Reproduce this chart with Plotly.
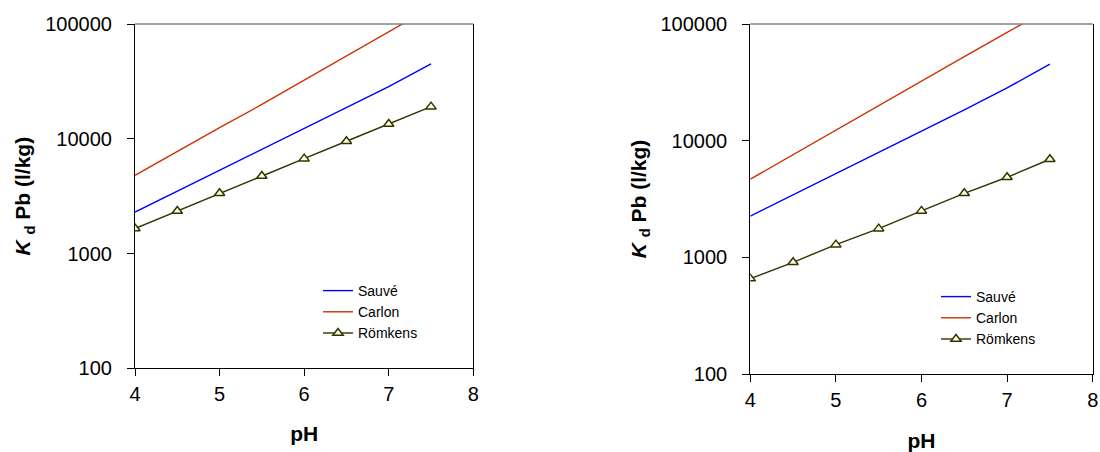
import plotly.graph_objects as go

ph = [4.0, 4.5, 5.0, 5.5, 6.0, 6.5, 7.0, 7.5]

# Left panel
sauve_left = [2300, 3500, 5300, 8000, 12200, 18500, 28500, 45000]
carlon_left = [4800, 7800, 12500, 19900, 32500, 52500, 85500, 139000]
romkens_left = [1650, 2350, 3350, 4740, 6710, 9510, 13450, 19050]

# Right panel
sauve_right = [2260, 3450, 5250, 7950, 12100, 18400, 28300, 45200]
carlon_right = [4670, 7600, 12300, 19800, 32500, 52500, 84700, 136000]
romkens_right = [657, 907, 1285, 1762, 2500, 3540, 4855, 6930]

series_names = ["Sauvé", "Carlon", "Römkens"]
x_ticks = [4, 5, 6, 7, 8]
y_ticks = [100, 1000, 10000, 100000]
y_ticklabels = ["100", "1000", "10000", "100000"]

BLUE = "#0000FF"
RED = "#CC3300"
OLIVE = "#333300"
FONT = "Liberation Sans, Arial, sans-serif"

fig = go.Figure()

panels = [
    ("x", "y", "legend", sauve_left, carlon_left, romkens_left),
    ("x2", "y2", "legend2", sauve_right, carlon_right, romkens_right),
]
for xa, ya, lg, s, c, r in panels:
    fig.add_trace(go.Scatter(x=ph, y=s, mode="lines", name=series_names[0],
                             line=dict(color=BLUE, width=1.4), xaxis=xa, yaxis=ya, legend=lg))
    fig.add_trace(go.Scatter(x=ph, y=c, mode="lines", name=series_names[1],
                             line=dict(color=RED, width=1.4), xaxis=xa, yaxis=ya, legend=lg))
    fig.add_trace(go.Scatter(x=ph, y=r, mode="lines+markers", name=series_names[2],
                             line=dict(color=OLIVE, width=1.4),
                             marker=dict(symbol="triangle-up", size=9, color="#FFFFE0",
                                         line=dict(color=OLIVE, width=1.5)),
                             xaxis=xa, yaxis=ya, legend=lg))

W, H = 1100, 452

def xaxis_cfg(x0, x1, anchor, title_standoff):
    return dict(domain=[x0 / W, x1 / W], anchor=anchor, range=[4, 8],
                tickvals=x_ticks, ticks="outside", ticklen=7, tickwidth=1.2,
                tickcolor="black", showline=True, linecolor="black", linewidth=1.2,
                mirror=False, showgrid=False, zeroline=False, automargin=False,
                tickfont=dict(family=FONT, size=20, color="black"),
                ticklabelstandoff=1,
                title=dict(text="pH", font=dict(family=FONT, size=21, color="black", weight="bold"),
                           standoff=title_standoff))

def yaxis_cfg(y_top, y_bot, anchor):
    return dict(domain=[1 - y_bot / H, 1 - y_top / H], anchor=anchor, type="log",
                range=[2, 5], tickvals=y_ticks, ticktext=y_ticklabels,
                ticks="outside", ticklen=7, tickwidth=1.2, tickcolor="black",
                showline=True, linecolor="black", linewidth=1.2, mirror=True,
                showgrid=False, zeroline=False, automargin=False,
                ticklabelstandoff=11,
                tickfont=dict(family=FONT, size=20, color="black"),
                title=dict(text="<i>K</i> <sub>d</sub> Pb (l/kg)",
                           font=dict(family=FONT, size=21, color="black", weight="bold"),
                           standoff=8))

fig.update_layout(
    width=W, height=H,
    margin=dict(l=0, r=0, t=0, b=0),
    paper_bgcolor="white", plot_bgcolor="white",
    showlegend=True,
    xaxis=xaxis_cfg(135, 473.3, "y", 21),
    yaxis=yaxis_cfg(24, 368.3, "x"),
    xaxis2=xaxis_cfg(750.3, 1092.7, "y2", 25),
    yaxis2=yaxis_cfg(24, 374, "x2"),
    legend=dict(x=318 / W, y=1 - 275 / H, xanchor="left", yanchor="top",
                bgcolor="rgba(0,0,0,0)", font=dict(family=FONT, size=14, color="black"),
                tracegroupgap=0, itemwidth=30),
    legend2=dict(x=936 / W, y=1 - 281 / H, xanchor="left", yanchor="top",
                 bgcolor="rgba(0,0,0,0)", font=dict(family=FONT, size=14, color="black"),
                 tracegroupgap=0, itemwidth=30),
)

# gray top border lines
for xref, yref in [("x domain", "y domain"), ("x2 domain", "y2 domain")]:
    fig.add_shape(type="line", xref=xref, yref=yref, x0=0, x1=1, y0=1, y1=1,
                  line=dict(color="#808080", width=1.4))

fig.write_html("out.html", config={"displayModeBar": False},
               post_script="document.body.style.margin='0';document.body.style.overflow='hidden';")
